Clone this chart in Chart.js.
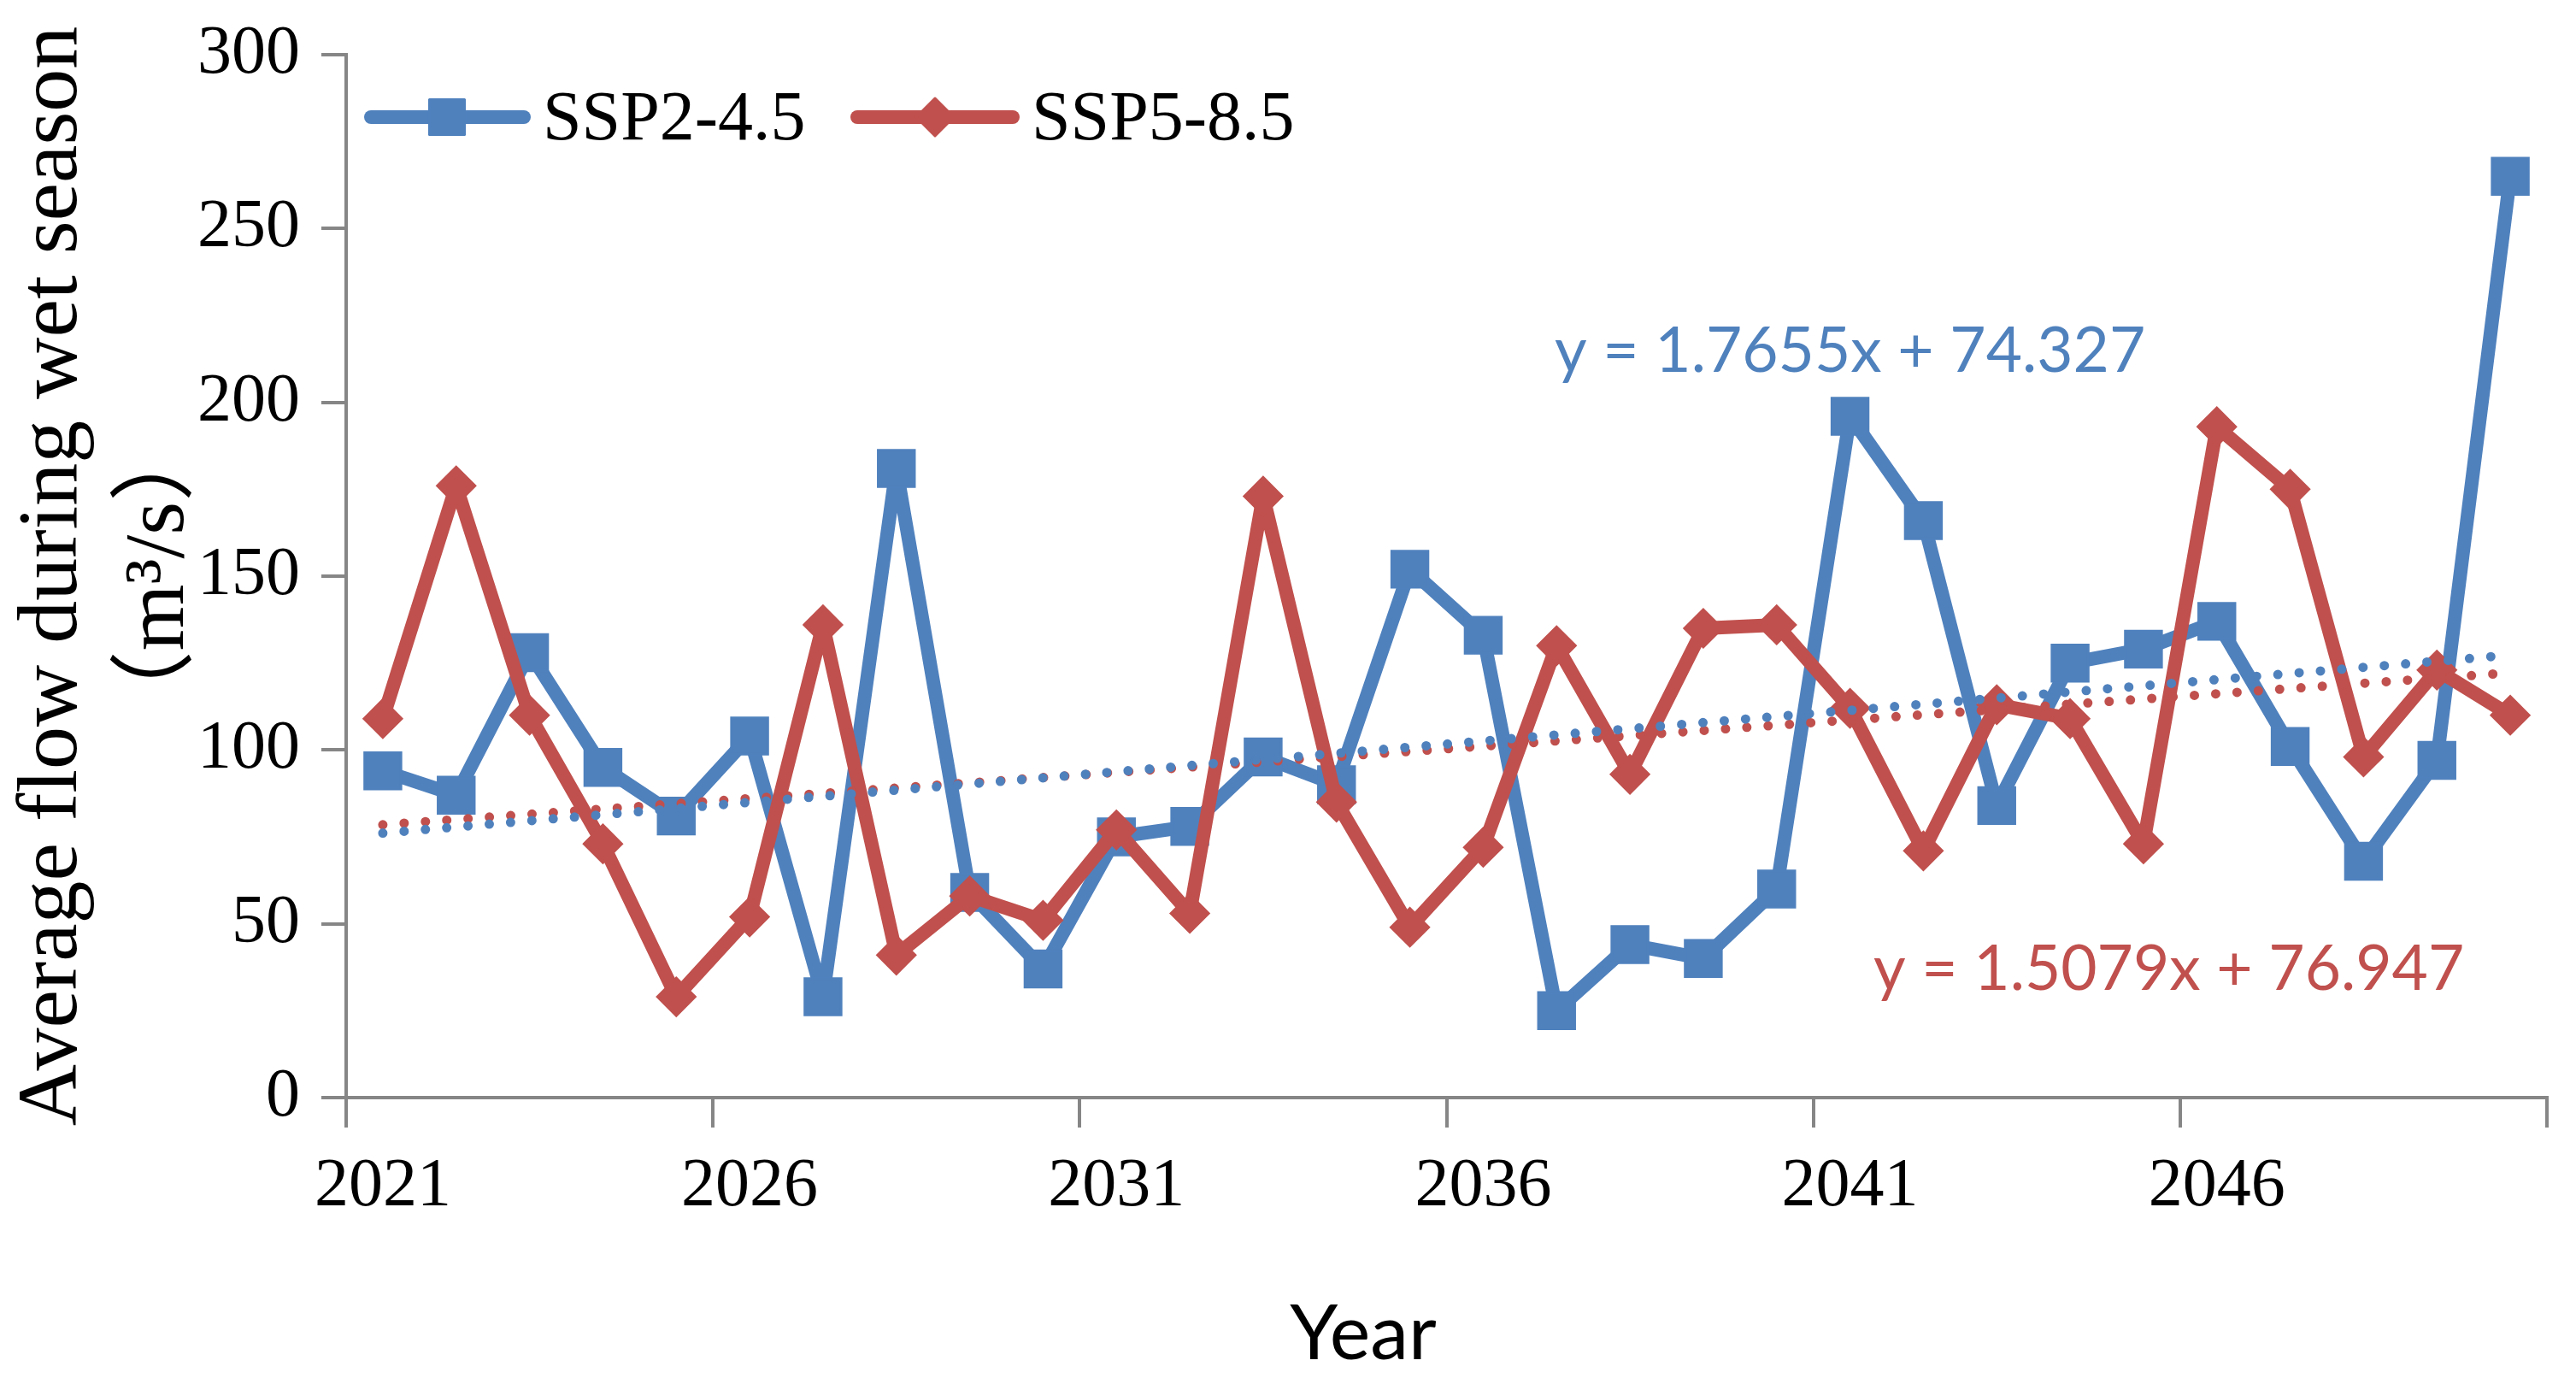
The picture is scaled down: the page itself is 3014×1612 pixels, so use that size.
<!DOCTYPE html>
<html>
<head>
<meta charset="utf-8">
<script src="https://cdn.jsdelivr.net/npm/chart.js@4.4.1/dist/chart.umd.min.js"></script>
<style>
html,body{margin:0;padding:0;background:#ffffff;}
canvas{display:block;}
</style>
</head>
<body>
<canvas id="c" width="3014" height="1612"></canvas>
<script>
// ---- data ----
const years = ['2021','2022','2023','2024','2025','2026','2027','2028','2029','2030',
               '2031','2032','2033','2034','2035','2036','2037','2038','2039','2040',
               '2041','2042','2043','2044','2045','2046','2047','2048','2049','2050'];
const ssp245 = [94, 87, 128, 95, 81, 104, 29, 181, 59, 37,
                75, 78, 98, 90, 152, 133, 25, 44, 40, 60,
                196, 166, 84, 125, 129, 137, 101, 68, 97, 265];
const ssp585 = [109, 176, 110, 73, 29, 52, 136, 41, 58, 51,
                77, 53, 173, 85, 49, 72, 130, 93, 135, 136,
                112, 71, 113, 109, 73, 193, 175, 98, 123, 110];
// trendline end points (first and last year) as shown in the picture
const trendYears = ['2021', '2050'];
const trend245 = [76.1, 127.3];
const trend585 = [78.5, 122.2];
const yTicks = [0, 50, 100, 150, 200, 250, 300];
const seriesNames = ['SSP2-4.5', 'SSP5-8.5'];
const eq245 = 'y = 1.7655x + 74.327';
const eq585 = 'y = 1.5079x + 76.947';
const yTitle = ['Average flow during wet season', '（m³/s）'];
const xTitle = 'Year';

// ---- styles ----
const BLUE = '#4F81BD';
const RED = '#C0504D';
const AXIS = '#868686';
const SERIF = "'Liberation Serif', 'Times New Roman', 'Noto Sans CJK SC', serif";
const SANS = "Lato, 'Noto Sans', sans-serif";

const overlay = {
  id: 'overlay',
  afterDraw(chart) {
    const ctx = chart.ctx;
    const a = chart.chartArea;
    ctx.save();
    // legend
    const legendY = a.top + 73;
    const items = [
      {x0: a.left + 29, x1: a.left + 208, mx: a.left + 118, tx: a.left + 230, color: BLUE, style: 'rect', r: 29, text: seriesNames[0]},
      {x0: a.left + 598, x1: a.left + 780, mx: a.left + 689, tx: a.left + 802, color: RED, style: 'rectRot', r: 22, text: seriesNames[1]}
    ];
    items.forEach(it => {
      ctx.beginPath();
      ctx.strokeStyle = it.color;
      ctx.lineWidth = 16;
      ctx.lineCap = 'round';
      ctx.moveTo(it.x0, legendY);
      ctx.lineTo(it.x1, legendY);
      ctx.stroke();
      ctx.fillStyle = it.color;
      ctx.strokeStyle = it.color;
      ctx.lineWidth = 3;
      ctx.lineCap = 'butt';
      ctx.lineJoin = 'round';
      Chart.helpers.drawPoint(ctx, {pointStyle: it.style, radius: it.r, borderWidth: 3, rotation: 0}, it.mx, legendY);
      ctx.fillStyle = '#000000';
      ctx.font = '82px ' + SERIF;
      ctx.textAlign = 'left';
      ctx.textBaseline = 'middle';
      ctx.fillText(it.text, it.tx, legendY + 4);
    });
    // trendline equations
    ctx.font = '73px ' + SANS;
    ctx.textAlign = 'left';
    ctx.textBaseline = 'alphabetic';
    ctx.fillStyle = BLUE;
    ctx.fillText(eq245, a.left + 1414, a.top + 371);
    ctx.fillStyle = RED;
    ctx.fillText(eq585, a.left + 1787, a.top + 1094);
    // x axis title
    ctx.fillStyle = '#000000';
    ctx.font = '90px ' + SANS;
    ctx.textAlign = 'center';
    ctx.fillText(xTitle, a.left + 1190, a.bottom + 306);
    ctx.restore();
  }
};

const chart = new Chart(document.getElementById('c'), {
  type: 'line',
  data: {
    labels: years,
    datasets: [
      {
        label: seriesNames[0] + ' trend',
        data: trendYears.map((y, i) => ({x: y, y: trend245[i]})),
        borderColor: BLUE,
        borderWidth: 11,
        borderDash: [0, 25],
        borderCapStyle: 'round',
        pointRadius: 0,
        fill: false,
        order: 0
      },
      {
        label: seriesNames[1] + ' trend',
        data: trendYears.map((y, i) => ({x: y, y: trend585[i]})),
        borderColor: RED,
        borderWidth: 11,
        borderDash: [0, 25],
        borderCapStyle: 'round',
        pointRadius: 0,
        fill: false,
        order: 1
      },
      {
        label: seriesNames[1],
        data: ssp585,
        borderColor: RED,
        backgroundColor: RED,
        borderWidth: 16,
        borderJoinStyle: 'round',
        tension: 0,
        pointStyle: 'rectRot',
        pointRadius: 22,
        pointBorderWidth: 3,
        pointBackgroundColor: RED,
        pointBorderColor: RED,
        fill: false,
        order: 2
      },
      {
        label: seriesNames[0],
        data: ssp245,
        borderColor: BLUE,
        backgroundColor: BLUE,
        borderWidth: 16,
        borderJoinStyle: 'round',
        tension: 0,
        pointStyle: 'rect',
        pointRadius: 30,
        pointBorderWidth: 3,
        pointBackgroundColor: BLUE,
        pointBorderColor: BLUE,
        fill: false,
        order: 3
      }
    ]
  },
  options: {
    responsive: false,
    animation: false,
    devicePixelRatio: 1,
    layout: {padding: {top: 64, right: 34, bottom: 0, left: 0}},
    plugins: {
      legend: {display: false},
      tooltip: {enabled: false},
      title: {display: false}
    },
    scales: {
      x: {
        type: 'category',
        offset: true,
        grid: {
          offset: true,
          drawOnChartArea: false,
          drawTicks: true,
          tickLength: 35,
          lineWidth: 4,
          color: (c) => (c.index === undefined || c.index % 5 === 0) ? AXIS : 'rgba(0,0,0,0)'
        },
        border: {display: true, color: AXIS, width: 4},
        ticks: {
          autoSkip: false,
          maxRotation: 0,
          minRotation: 0,
          padding: 22,
          color: '#000000',
          font: {family: SERIF, size: 80},
          callback: (v, i) => (i % 5 === 0 ? years[i] : '')
        },
        afterFit: (s) => { s.height = 328; s.paddingLeft = 0; s.paddingRight = 0; }
      },
      y: {
        min: 0,
        max: 300,
        afterBuildTicks: (s) => { s.ticks = yTicks.map(v => ({value: v})); },
        grid: {
          drawOnChartArea: false,
          drawTicks: true,
          tickLength: 29,
          lineWidth: 4,
          color: AXIS
        },
        border: {display: true, color: AXIS, width: 4},
        ticks: {
          padding: 25,
          color: '#000000',
          font: {family: SERIF, size: 80}
        },
        title: {
          display: true,
          text: yTitle,
          color: '#000000',
          font: {family: SERIF, size: 100, lineHeight: 1.25},
          padding: {top: 0, bottom: 0}
        },
        afterFit: (s) => { s.width = 405; s.paddingTop = 0; s.paddingBottom = 0; }
      }
    }
  },
  plugins: [overlay]
});
</script>
</body>
</html>
